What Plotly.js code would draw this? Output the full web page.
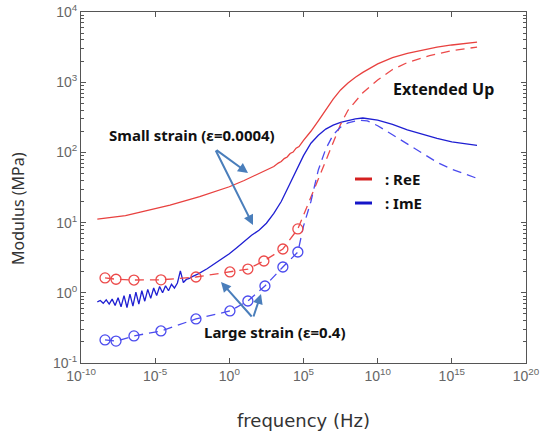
<!DOCTYPE html>
<html>
<head>
<meta charset="utf-8">
<script src="https://cdn.plot.ly/plotly-3.0.1.min.js"></script>
<style>html,body{margin:0;padding:0;background:#fff;}#chart{width:547px;height:438px;}</style>
</head>
<body>
<div id="chart"></div>
<script>
// Frequencies are given as log10(Hz) exponents; moduli in MPa.
// Small strain (eps = 0.0004), real part
const reeSmallFreqExp = [-8.9, -7, -6, -4, -2, 0, 1, 2, 3, 3.3, 3.5, 3.7, 3.9, 4.1, 4.3, 4.5, 4.7, 5, 5.5, 6, 6.5, 7, 7.5, 8, 8.5, 9, 10, 11, 12, 13, 14, 15, 16.7];
const reeSmallMPa     = [11.2, 12.6, 14.1, 17.8, 23.4, 32.4, 39.8, 50.1, 63.0, 70.5, 74.0, 81.5, 86.0, 96.5, 101, 115, 121, 148, 200, 282, 398, 575, 776, 977, 1175, 1380, 1820, 2240, 2570, 2880, 3160, 3390, 3720];

// Small strain, imaginary part
const imeSmallFreqExp = [-8.9, -8.7, -8.5, -8.3, -8.1, -7.9, -7.7, -7.5, -7.3, -7.1, -6.9, -6.7, -6.5, -6.3, -6.1, -5.9, -5.7, -5.5, -5.3, -5.1, -4.9, -4.7, -4.5, -4.3, -4.1, -3.9, -3.7, -3.5, -3.3, -3.1, -2.9, -2.7, -2.5, -2.3, -2.1, -1.5, -1, -0.5, 0, 0.5, 1, 1.5, 2, 2.5, 3, 3.5, 4, 4.5, 5, 5.5, 6, 6.5, 7, 7.5, 8, 8.5, 9, 9.5, 10, 11, 12, 13, 14, 15, 16.7];
const imeSmallMPa     = [0.741, 0.776, 0.708, 0.794, 0.692, 0.813, 0.661, 0.851, 0.631, 0.912, 0.617, 0.955, 0.646, 1.02, 0.692, 1.07, 0.759, 1.12, 0.832, 1.17, 0.912, 1.23, 1.00, 1.26, 1.07, 1.32, 1.17, 1.38, 2.05, 1.40, 1.55, 1.60, 1.70, 1.76, 1.86, 2.2, 2.6, 3.1, 3.6, 4.4, 5.4, 6.6, 7.8, 9.8, 13.5, 20, 33, 55, 90, 135, 175, 215, 245, 268, 285, 300, 309, 302, 288, 251, 209, 182, 158, 141, 126];

// Large strain (eps = 0.4), measured points (circles)
const reeLargeFreqExp = [-8.38, -7.64, -6.43, -4.61, -2.25, 0.04, 1.25, 2.33, 3.61, 4.62];
const reeLargeMPa     = [1.63, 1.56, 1.52, 1.53, 1.68, 1.98, 2.18, 2.84, 4.21, 8.13];
const imeLargeFreqExp = [-8.38, -7.64, -6.43, -4.61, -2.25, 0.04, 1.25, 2.4, 3.61, 4.62];
const imeLargeMPa     = [0.213, 0.205, 0.243, 0.286, 0.424, 0.551, 0.764, 1.25, 2.33, 3.81];

// Large strain, extended up (dashed continuation)
const reeExtFreqExp = [5.0, 5.5, 6.0, 6.5, 7.0, 7.5, 8.0, 9.0, 10.0, 11.0, 12.0, 13.5, 15.0, 16.7];
const reeExtMPa     = [12.6, 22.4, 41.7, 75.9, 141, 251, 398, 708, 1072, 1514, 1905, 2399, 2818, 3162];
const imeExtFreqExp = [5.0, 5.5, 6.0, 6.5, 7.0, 7.5, 8.0, 8.7, 9.3, 10.0, 11.0, 12.0, 13.0, 14.0, 15.0, 16.7];
const imeExtMPa     = [8.9, 20.0, 56.2, 112, 178, 229, 263, 288, 282, 240, 178, 132, 95.5, 72.4, 57.5, 42.7];

// Tick labels
const xTickVals = [1e-10, 1e-5, 1, 1e5, 1e10, 1e15, 1e20];
const xTickText = ['10<sup>-10</sup>', '10<sup>-5</sup>', '10<sup>0</sup>', '10<sup>5</sup>', '10<sup>10</sup>', '10<sup>15</sup>', '10<sup>20</sup>'];
const yTickVals = [0.1, 1, 10, 100, 1000, 10000];
const yTickText = ['10<sup>-1</sup>', '10<sup>0</sup>', '10<sup>1</sup>', '10<sup>2</sup>', '10<sup>3</sup>', '10<sup>4</sup>'];

const hz = arr => arr.map(e => Math.pow(10, e));

const RED = '#e8413f', BLUE = '#1f1fd2', RED_D = '#ec4a4a', BLUE_D = '#4b4bee';

const traces = [
  {x: hz(reeSmallFreqExp), y: reeSmallMPa, mode: 'lines', line: {color: RED, width: 1.3}, name: 'ReE small strain', showlegend: false},
  {x: hz(imeSmallFreqExp), y: imeSmallMPa, mode: 'lines', line: {color: BLUE, width: 1.3}, name: 'ImE small strain', showlegend: false},
  {x: hz(reeLargeFreqExp.concat(reeExtFreqExp)), y: reeLargeMPa.concat(reeExtMPa), mode: 'lines', line: {color: RED_D, width: 1.3, dash: '9px,6px'}, name: 'ReE large strain', showlegend: false},
  {x: hz(imeLargeFreqExp.concat(imeExtFreqExp)), y: imeLargeMPa.concat(imeExtMPa), mode: 'lines', line: {color: BLUE_D, width: 1.3, dash: '9px,6px'}, name: 'ImE large strain', showlegend: false},
  {x: hz(reeLargeFreqExp), y: reeLargeMPa, mode: 'markers', marker: {symbol: 'circle-open', size: 10, color: RED_D, line: {width: 1.3}}, showlegend: false},
  {x: hz(imeLargeFreqExp), y: imeLargeMPa, mode: 'markers', marker: {symbol: 'circle-open', size: 10, color: BLUE_D, line: {width: 1.3}}, showlegend: false}
];

const tickFont = {family: 'Liberation Sans, Arial, sans-serif', size: 14, color: '#666'};
const txtFont = {family: 'Noto Sans, sans-serif', size: 15, color: '#111'};
const ARROW = '#4a7ebb';

const layout = {
  width: 547, height: 438,
  margin: {l: 81, r: 21, t: 12, b: 75},
  paper_bgcolor: '#fff', plot_bgcolor: '#fff',
  showlegend: false,
  xaxis: {
    type: 'log', range: [-10, 20], tickmode: 'array', tickvals: xTickVals, ticktext: xTickText,
    ticks: 'inside', ticklen: 5, tickcolor: '#555', mirror: 'ticks',
    showline: true, linecolor: '#555', linewidth: 1, showgrid: false, zeroline: false,
    tickfont: tickFont,
    title: {text: 'frequency (Hz)', font: {family: 'DejaVu Sans, sans-serif', size: 18, color: '#333'}, standoff: 31}
  },
  yaxis: {
    type: 'log', range: [-1, 4], tickmode: 'array', tickvals: yTickVals, ticktext: yTickText,
    ticks: 'inside', ticklen: 5, tickcolor: '#555', mirror: 'ticks',
    showline: true, linecolor: '#555', linewidth: 1, showgrid: false, zeroline: false,
    minor: {ticks: 'inside', ticklen: 3, tickcolor: '#555', dtick: 'D1', showgrid: false},
    tickfont: tickFont
  },
  shapes: [
    {type: 'line', xref: 'paper', yref: 'paper', x0: 0.6157, x1: 0.654, y0: 0.5242, y1: 0.5242, line: {color: '#d42020', width: 3}},
    {type: 'line', xref: 'paper', yref: 'paper', x0: 0.6157, x1: 0.654, y0: 0.4558, y1: 0.4558, line: {color: '#1515c8', width: 3}}
  ],
  annotations: [
    {xref: 'paper', yref: 'paper', x: -0.1416, y: 0.4416, xanchor: 'center', yanchor: 'middle', textangle: -90, text: 'Modulus (MPa)', showarrow: false, font: {family: 'Noto Sans, sans-serif', size: 16, color: '#333'}},
    {xref: 'paper', yref: 'paper', x: 0.2494, y: 0.6496, xanchor: 'center', yanchor: 'middle', text: '<b>Small strain (ε=0.0004)</b>', showarrow: false, font: txtFont},
    {xref: 'paper', yref: 'paper', x: 0.436, y: 0.0883, xanchor: 'center', yanchor: 'middle', text: '<b>Large strain (ε=0.4)</b>', showarrow: false, font: txtFont},
    {xref: 'paper', yref: 'paper', x: 0.8135, y: 0.7806, xanchor: 'center', yanchor: 'middle', text: '<b>Extended Up</b>', showarrow: false, font: {family: 'Noto Sans, sans-serif', size: 16, color: '#111'}},
    {xref: 'paper', yref: 'paper', x: 0.6787, y: 0.5242, xanchor: 'left', yanchor: 'middle', text: '<b>: ReE</b>', showarrow: false, font: {family: 'Noto Sans, sans-serif', size: 15, color: '#111'}},
    {xref: 'paper', yref: 'paper', x: 0.6787, y: 0.4558, xanchor: 'left', yanchor: 'middle', text: '<b>: ImE</b>', showarrow: false, font: {family: 'Noto Sans, sans-serif', size: 15, color: '#111'}},
    {xref: 'paper', yref: 'paper', x: 0.3753, y: 0.5413, ax: -33, ay: -24, text: '', showarrow: true, arrowhead: 2, arrowsize: 1, arrowwidth: 2, arrowcolor: ARROW},
    {xref: 'paper', yref: 'paper', x: 0.3865, y: 0.3932, ax: -38, ay: -76, text: '', showarrow: true, arrowhead: 2, arrowsize: 1, arrowwidth: 2, arrowcolor: ARROW},
    {xref: 'paper', yref: 'paper', x: 0.3146, y: 0.2308, ax: 32, ay: 36, text: '', showarrow: true, arrowhead: 2, arrowsize: 1, arrowwidth: 2, arrowcolor: ARROW},
    {xref: 'paper', yref: 'paper', x: 0.4045, y: 0.1966, ax: -8, ay: 24, text: '', showarrow: true, arrowhead: 2, arrowsize: 1, arrowwidth: 2, arrowcolor: ARROW}
  ]
};

Plotly.newPlot('chart', traces, layout, {displayModeBar: false, staticPlot: true});
</script>
</body>
</html>
